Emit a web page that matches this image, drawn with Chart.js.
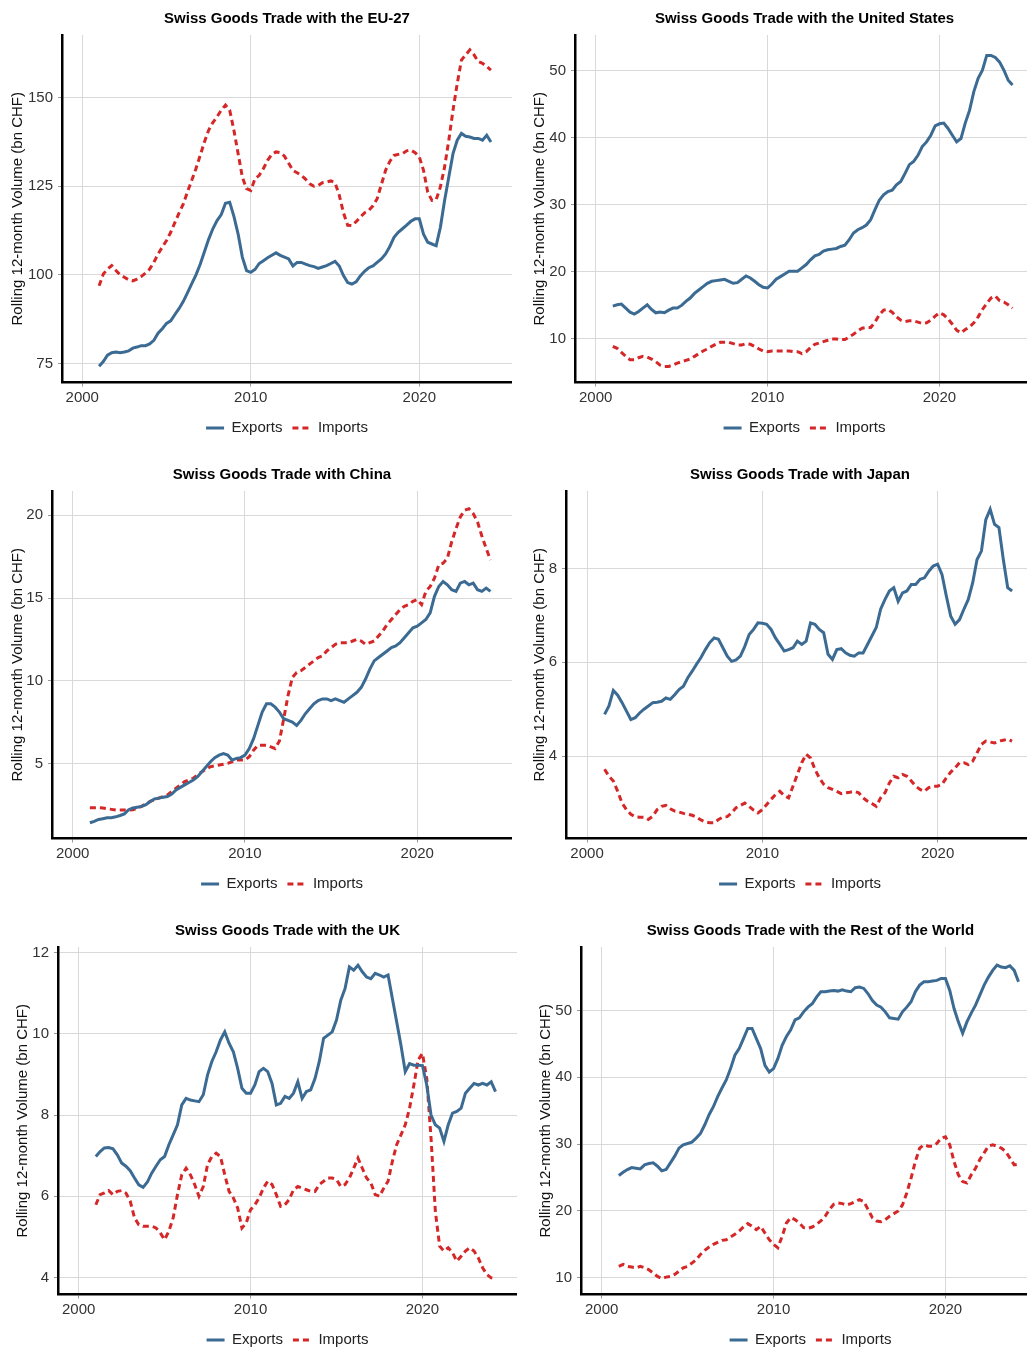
<!DOCTYPE html>
<html>
<head>
<meta charset="utf-8">
<title>Swiss Goods Trade by Partner</title>
<script src="https://cdn.jsdelivr.net/npm/chart.js@4.4.1/dist/chart.umd.min.js"></script>
<style>
  html, body { margin: 0; padding: 0; background: #fff; }
  body { width: 1027px; height: 1348px; overflow: hidden; position: relative; }
  canvas { position: absolute; }
</style>
</head>
<body>
<canvas id="euChart"></canvas>
<canvas id="usChart"></canvas>
<canvas id="chinaChart"></canvas>
<canvas id="japanChart"></canvas>
<canvas id="ukChart"></canvas>
<canvas id="rowChart"></canvas>
<script>
// Quarterly sample dates (decimal years)
const quarters = [
    2001, 2001.25, 2001.5, 2001.75,
    2002, 2002.25, 2002.5, 2002.75,
    2003, 2003.25, 2003.5, 2003.75,
    2004, 2004.25, 2004.5, 2004.75,
    2005, 2005.25, 2005.5, 2005.75,
    2006, 2006.25, 2006.5, 2006.75,
    2007, 2007.25, 2007.5, 2007.75,
    2008, 2008.25, 2008.5, 2008.75,
    2009, 2009.25, 2009.5, 2009.75,
    2010, 2010.25, 2010.5, 2010.75,
    2011, 2011.25, 2011.5, 2011.75,
    2012, 2012.25, 2012.5, 2012.75,
    2013, 2013.25, 2013.5, 2013.75,
    2014, 2014.25, 2014.5, 2014.75,
    2015, 2015.25, 2015.5, 2015.75,
    2016, 2016.25, 2016.5, 2016.75,
    2017, 2017.25, 2017.5, 2017.75,
    2018, 2018.25, 2018.5, 2018.75,
    2019, 2019.25, 2019.5, 2019.75,
    2020, 2020.25, 2020.5, 2020.75,
    2021, 2021.25, 2021.5, 2021.75,
    2022, 2022.25, 2022.5, 2022.75,
    2023, 2023.25, 2023.5, 2023.75,
    2024, 2024.25
];

const xTicks = [2000, 2010, 2020];

// EU-27 (bn CHF)
const euExports = [
    74.2, 75.5, 77.3, 78.0,
    78.2, 78.0, 78.2, 78.5,
    79.3, 79.6, 80.0, 80.0,
    80.5, 81.5, 83.5, 84.8,
    86.3, 87.0, 88.8, 90.5,
    92.5, 95.0, 97.5, 100.0,
    103.0, 106.5, 110.0, 113.0,
    115.3, 117.0, 120.2, 120.5,
    116.5, 111.5, 105.0, 101.2,
    100.7, 101.5, 103.2, 104.0,
    104.8, 105.5, 106.2, 105.5,
    105.0, 104.5, 102.5, 103.5,
    103.5, 103.0, 102.6, 102.3,
    101.8, 102.2, 102.6, 103.2,
    103.8, 102.5, 99.8, 97.8,
    97.4, 98.0, 99.7, 101.0,
    102.0, 102.5, 103.5, 104.5,
    105.9, 108.0, 110.6, 112.0,
    113.0, 114.0, 115.1, 115.8,
    115.8, 111.5, 109.2, 108.7,
    108.2, 113.4, 121.0, 127.6,
    134.2, 138.0, 139.9, 139.1,
    138.9, 138.5, 138.5, 138.0,
    139.4, 137.5
];
const euImports = [
    96.9, 100.2, 101.6, 102.6,
    101.2, 100.0, 99.3, 98.6,
    98.3, 98.8, 99.5, 100.5,
    101.6, 103.5, 105.9, 107.8,
    109.7, 112.0, 114.8, 117.5,
    120.0, 123.5, 126.7, 130.0,
    133.7, 137.5, 140.8, 143.0,
    144.6, 146.5, 147.9, 146.5,
    140.8, 134.2, 127.6, 124.3,
    123.8, 127.1, 128.1, 130.0,
    132.3, 134.0, 134.7, 134.5,
    133.5, 131.5, 129.5, 128.8,
    128.1, 127.0, 125.7, 125.0,
    125.2, 126.0, 126.2, 126.5,
    126.0, 122.5, 117.5, 114.0,
    113.9, 115.0, 116.3, 117.5,
    118.2, 119.5, 121.5, 125.5,
    129.5, 132.0, 133.7, 134.0,
    134.2, 135.0, 135.2, 134.5,
    133.3, 129.5, 123.3, 121.0,
    121.2, 124.8, 130.4, 138.0,
    146.5, 154.0, 160.6, 162.1,
    163.5, 162.1, 160.2, 159.7,
    158.8, 157.8
];
const euTicks = [75, 100, 125, 150];

// United States
const usExports = [
    14.9, 15.1, 15.2, 14.6,
    14.0, 13.7, 14.1, 14.6,
    15.1, 14.4, 13.9, 14.0,
    13.9, 14.3, 14.6, 14.6,
    15.0, 15.6, 16.1, 16.8,
    17.3, 17.8, 18.3, 18.6,
    18.7, 18.8, 18.9, 18.6,
    18.3, 18.4, 18.9, 19.4,
    19.1, 18.6, 18.1, 17.7,
    17.6, 18.2, 18.9, 19.3,
    19.7, 20.1, 20.1, 20.1,
    20.6, 21.1, 21.8, 22.4,
    22.6, 23.1, 23.3, 23.4,
    23.5, 23.8, 24.0, 24.8,
    25.8, 26.3, 26.6, 27.0,
    27.8, 29.3, 30.7, 31.5,
    32.0, 32.2, 33.0, 33.5,
    34.7, 36.0, 36.5, 37.4,
    38.7, 39.4, 40.4, 41.8,
    42.1, 42.2, 41.4, 40.4,
    39.4, 39.9, 42.2, 44.1,
    46.9, 48.9, 50.1, 52.3,
    52.3, 52.0, 51.3, 50.1,
    48.6, 47.9
];
const usImports = [
    8.9, 8.6, 8.0, 7.4,
    6.9, 6.9, 7.2, 7.4,
    7.3, 7.0, 6.6, 6.1,
    5.9, 5.9, 6.1, 6.4,
    6.6, 6.8, 7.0, 7.4,
    7.8, 8.2, 8.5, 8.9,
    9.2, 9.5, 9.5, 9.5,
    9.3, 9.1, 9.1, 9.3,
    9.2, 8.9, 8.5, 8.2,
    8.1, 8.2, 8.2, 8.2,
    8.2, 8.2, 8.1, 8.1,
    7.8, 8.1, 8.7, 9.2,
    9.4, 9.6, 9.8, 10.0,
    10.0, 9.9, 9.9, 10.3,
    10.7, 11.2, 11.6, 11.7,
    11.7, 12.5, 13.6, 14.3,
    14.4, 14.0, 13.3, 12.8,
    12.6, 12.7, 12.7, 12.5,
    12.3, 12.4, 12.8, 13.4,
    13.9, 13.6, 13.0, 12.2,
    11.3, 10.9, 11.4, 11.8,
    12.4, 13.3, 14.4, 15.3,
    16.1, 16.4, 15.7, 15.5,
    15.1, 14.6
];
const usTicks = [10, 20, 30, 40, 50];

// China
const chinaExports = [
    1.41, 1.50, 1.61, 1.66,
    1.71, 1.72, 1.77, 1.85,
    1.95, 2.20, 2.30, 2.35,
    2.40, 2.50, 2.70, 2.85,
    2.90, 2.95, 3.00, 3.15,
    3.40, 3.55, 3.70, 3.85,
    4.00, 4.20, 4.50, 4.80,
    5.10, 5.35, 5.50, 5.60,
    5.50, 5.20, 5.30, 5.35,
    5.50, 5.90, 6.50, 7.30,
    8.10, 8.60, 8.60, 8.40,
    8.10, 7.70, 7.60, 7.50,
    7.30, 7.60, 8.00, 8.30,
    8.60, 8.80, 8.90, 8.90,
    8.80, 8.90, 8.80, 8.70,
    8.90, 9.10, 9.30, 9.60,
    10.1, 10.7, 11.2, 11.4,
    11.6, 11.8, 12.0, 12.1,
    12.3, 12.6, 12.9, 13.2,
    13.3, 13.5, 13.7, 14.1,
    15.1, 15.7, 16.0, 15.8,
    15.5, 15.4, 15.9, 16.0,
    15.8, 15.9, 15.5, 15.4,
    15.6, 15.4
];
const chinaImports = [
    2.32, 2.32, 2.32, 2.30,
    2.26, 2.22, 2.18, 2.18,
    2.18, 2.18, 2.20, 2.30,
    2.40, 2.55, 2.70, 2.80,
    2.90, 3.00, 3.10, 3.30,
    3.50, 3.70, 3.90, 4.00,
    4.10, 4.30, 4.50, 4.65,
    4.80, 4.85, 4.90, 4.95,
    5.00, 5.10, 5.20, 5.20,
    5.20, 5.40, 5.80, 6.10,
    6.10, 6.10, 6.00, 5.90,
    6.35, 7.70, 9.10, 10.2,
    10.5, 10.6, 10.8, 11.0,
    11.2, 11.4, 11.5, 11.8,
    12.0, 12.2, 12.3, 12.3,
    12.3, 12.4, 12.5, 12.4,
    12.2, 12.3, 12.4, 12.7,
    13.0, 13.4, 13.7, 14.0,
    14.3, 14.5, 14.6, 14.8,
    14.9, 14.6, 15.4, 15.7,
    16.2, 17.0, 17.1, 17.4,
    18.4, 19.2, 19.9, 20.3,
    20.4, 20.1, 19.6, 18.75,
    18.0, 17.3
];
const chinaTicks = [5, 10, 15, 20];

// Japan
const japanExports = [
    4.89, 5.07, 5.40, 5.30,
    5.14, 4.96, 4.78, 4.82,
    4.92, 5.00, 5.07, 5.14,
    5.15, 5.17, 5.24, 5.21,
    5.31, 5.42, 5.49, 5.67,
    5.81, 5.96, 6.10, 6.27,
    6.42, 6.52, 6.49, 6.31,
    6.13, 6.02, 6.05, 6.13,
    6.34, 6.59, 6.70, 6.84,
    6.83, 6.81, 6.70, 6.52,
    6.38, 6.24, 6.27, 6.31,
    6.45, 6.38, 6.45, 6.84,
    6.81, 6.70, 6.63, 6.17,
    6.06, 6.27, 6.29, 6.20,
    6.15, 6.13, 6.20, 6.20,
    6.38, 6.56, 6.74, 7.13,
    7.34, 7.52, 7.59, 7.30,
    7.48, 7.52, 7.66, 7.66,
    7.77, 7.80, 7.94, 8.05,
    8.09, 7.87, 7.41, 6.98,
    6.81, 6.91, 7.13, 7.34,
    7.69, 8.19, 8.37, 9.04,
    9.26, 8.94, 8.87, 8.19,
    7.59, 7.52
];
const japanImports = [
    3.72, 3.57, 3.47, 3.25,
    3.00, 2.86, 2.76, 2.71,
    2.70, 2.70, 2.65, 2.72,
    2.86, 2.93, 2.95, 2.88,
    2.83, 2.81, 2.78, 2.76,
    2.74, 2.70, 2.64, 2.60,
    2.58, 2.58, 2.65, 2.70,
    2.71, 2.79, 2.90, 2.95,
    3.00, 2.93, 2.85, 2.79,
    2.86, 2.97, 3.08, 3.18,
    3.25, 3.16, 3.11, 3.36,
    3.61, 3.86, 4.04, 3.96,
    3.72, 3.54, 3.40, 3.33,
    3.29, 3.25, 3.20, 3.22,
    3.23, 3.25, 3.22, 3.11,
    3.04, 2.99, 2.93, 3.11,
    3.22, 3.43, 3.57, 3.54,
    3.61, 3.57, 3.47, 3.36,
    3.29, 3.25, 3.33, 3.36,
    3.36, 3.40, 3.54, 3.66,
    3.75, 3.86, 3.86, 3.82,
    3.89, 4.07, 4.25, 4.32,
    4.30, 4.28, 4.32, 4.34,
    4.36, 4.32
];
const japanTicks = [4, 6, 8];

// United Kingdom
const ukExports = [
    6.98, 7.10, 7.19, 7.20,
    7.17, 7.02, 6.82, 6.74,
    6.63, 6.45, 6.28, 6.22,
    6.35, 6.57, 6.74, 6.90,
    6.98, 7.27, 7.51, 7.76,
    8.25, 8.41, 8.37, 8.35,
    8.33, 8.50, 8.99, 9.32,
    9.56, 9.85, 10.05, 9.77,
    9.56, 9.15, 8.66, 8.54,
    8.54, 8.74, 9.07, 9.15,
    9.07, 8.78, 8.25, 8.29,
    8.46, 8.41, 8.54, 8.82,
    8.41, 8.58, 8.62, 8.90,
    9.32, 9.89, 9.97, 10.05,
    10.34, 10.83, 11.12, 11.65,
    11.57, 11.69, 11.53, 11.40,
    11.36, 11.49, 11.45, 11.40,
    11.45, 10.87, 10.30, 9.72,
    9.07, 9.27, 9.23, 9.23,
    9.22, 8.74, 8.00, 7.76,
    7.68, 7.35, 7.76, 8.05,
    8.09, 8.17, 8.54, 8.66,
    8.78, 8.74, 8.78, 8.74,
    8.82, 8.58
];
const ukImports = [
    5.79, 6.04, 6.08, 6.14,
    6.04, 6.12, 6.14, 6.08,
    5.88, 5.47, 5.30, 5.26,
    5.26, 5.26, 5.22, 5.10,
    4.93, 5.14, 5.47, 6.04,
    6.53, 6.69, 6.53, 6.29,
    6.00, 6.24, 6.78, 6.98,
    7.06, 6.98, 6.53, 6.12,
    5.96, 5.71, 5.22, 5.34,
    5.67, 5.79, 5.96, 6.20,
    6.37, 6.29, 6.04, 5.75,
    5.79, 5.92, 6.16, 6.24,
    6.20, 6.16, 6.12, 6.12,
    6.29, 6.37, 6.45, 6.45,
    6.41, 6.24, 6.29, 6.45,
    6.69, 6.94, 6.69, 6.45,
    6.33, 6.04, 6.00, 6.20,
    6.37, 6.86, 7.27, 7.51,
    7.76, 8.17, 8.74, 9.36,
    9.52, 8.90, 7.43, 5.63,
    4.77, 4.65, 4.73, 4.61,
    4.40, 4.52, 4.65, 4.73,
    4.65, 4.48, 4.24, 4.07,
    3.99, 3.97
];
const ukTicks = [4, 6, 8, 10, 12];

// Rest of the World
const rowExports = [
    25.3, 25.8, 26.2, 26.5,
    26.4, 26.3, 26.9, 27.1,
    27.2, 26.7, 26.0, 26.2,
    27.2, 28.2, 29.4, 29.9,
    30.1, 30.3, 30.9, 31.6,
    32.9, 34.4, 35.6, 37.1,
    38.4, 39.6, 41.3, 43.3,
    44.3, 45.8, 47.3, 47.3,
    45.8, 44.3, 41.8, 40.8,
    41.3, 42.8, 44.8, 46.1,
    47.1, 48.6, 48.9, 49.8,
    50.5, 51.0, 52.0, 52.8,
    52.8, 52.9, 53.0, 52.9,
    53.1, 52.9, 52.8, 53.4,
    53.5, 53.3, 52.5, 51.5,
    50.8, 50.5, 49.8, 48.9,
    48.8, 48.7, 49.8, 50.5,
    51.3, 52.8, 53.8, 54.3,
    54.3, 54.4, 54.5, 54.8,
    54.8, 53.0, 50.3, 48.3,
    46.6, 48.3, 49.6, 50.8,
    52.3, 53.8, 55.0, 56.0,
    56.8, 56.5, 56.4, 56.7,
    56.0, 54.3
];
const rowImports = [
    11.7, 12.0, 11.7, 11.6,
    11.5, 11.7, 11.5, 11.2,
    10.7, 10.2, 9.9, 10.1,
    10.2, 10.5, 11.0, 11.5,
    11.7, 12.2, 12.7, 13.5,
    14.1, 14.6, 15.0, 15.3,
    15.6, 15.7, 16.1, 16.5,
    17.0, 17.6, 18.1, 17.7,
    17.2, 17.7, 16.7, 15.7,
    15.0, 14.5, 16.2, 18.2,
    19.0, 18.7, 18.2, 17.5,
    17.4, 17.6, 18.0, 18.5,
    19.2, 20.2, 21.0, 21.2,
    21.1, 20.9, 21.1, 21.4,
    21.7, 21.4, 20.2, 19.0,
    18.5, 18.4, 18.7, 19.2,
    19.6, 20.0, 20.9, 22.7,
    24.9, 27.4, 29.4, 29.9,
    29.7, 29.7, 30.1, 30.9,
    31.1, 29.9, 27.4, 25.4,
    24.4, 24.2, 25.4, 26.4,
    27.7, 28.7, 29.7, 29.9,
    29.7, 29.4, 28.9, 27.9,
    26.9, 27.0
];
const rowTicks = [10, 20, 30, 40, 50];

// Global defaults
Chart.defaults.font.family = "'Liberation Sans', Arial, sans-serif";
Chart.defaults.font.size = 15;
Chart.defaults.color = '#333';

const EXPORT_COLOR = '#3B6A92';
const IMPORT_COLOR = '#D62728';
const GRID_COLOR = '#d9d9d9';
const Y_TITLE = 'Rolling 12-month Volume (bn CHF)';

function toPoints(values) {
    return values.map(function(v, i) {
        return { x: quarters[i], y: v };
    });
}

// legend keys drawn as short lines, keeping the dataset's dash pattern
function lineLegendLabels(chart) {
    const items = Chart.defaults.plugins.legend.labels.generateLabels(chart);
    items.forEach(function(item) {
        const ds = chart.data.datasets[item.datasetIndex];
        item.lineDash = ds.borderDash || [];
        item.lineWidth = ds.borderWidth;
        item.strokeStyle = ds.borderColor;
        item.lineCap = 'butt';
    });
    return items;
}

function makePanel(p) {
    const canvas = document.getElementById(p.id);
    canvas.width = p.width;
    canvas.height = 456;
    canvas.style.left = p.left + 'px';
    canvas.style.top = p.top + 'px';

    return new Chart(canvas.getContext('2d'), {
        type: 'line',
        data: {
            datasets: [
                {
                    label: 'Exports',
                    data: toPoints(p.exports),
                    borderColor: EXPORT_COLOR,
                    backgroundColor: EXPORT_COLOR,
                    borderWidth: 3,
                    pointRadius: 0,
                    pointStyle: 'line',
                    tension: 0
                },
                {
                    label: 'Imports',
                    data: toPoints(p.imports),
                    borderColor: IMPORT_COLOR,
                    backgroundColor: IMPORT_COLOR,
                    borderWidth: 3,
                    borderDash: [6, 4],
                    pointRadius: 0,
                    pointStyle: 'line',
                    tension: 0
                }
            ]
        },
        options: {
            responsive: false,
            animation: false,
            events: [],
            layout: { padding: { left: 0, right: 0, top: 0, bottom: 10.5 } },
            plugins: {
                title: {
                    display: true,
                    text: p.title,
                    fullSize: false,
                    color: '#000',
                    font: { size: 15, weight: 'bold' },
                    padding: { top: 10, bottom: 7 }
                },
                legend: {
                    position: 'bottom',
                    fullSize: false,
                    labels: {
                        usePointStyle: true,
                        pointStyleWidth: 18,
                        padding: 10,
                        color: '#222',
                        font: { size: 15 },
                        generateLabels: lineLegendLabels
                    }
                },
                tooltip: { enabled: false }
            },
            scales: {
                x: {
                    type: 'linear',
                    min: 1998.8,
                    max: 2025.5,
                    afterBuildTicks: function(axis) {
                        axis.ticks = xTicks.map(function(v) { return { value: v }; });
                    },
                    afterFit: function(axis) { axis.height = 28; },
                    ticks: {
                        padding: 2,
                        color: '#333',
                        callback: function(v) { return String(v); }
                    },
                    grid: { color: GRID_COLOR, tickColor: '#999', tickLength: 4 },
                    border: { color: '#000', width: 2.5 }
                },
                y: {
                    type: 'linear',
                    min: p.yMin,
                    max: p.yMax,
                    afterBuildTicks: function(axis) {
                        axis.ticks = p.yTicks.map(function(v) { return { value: v }; });
                    },
                    afterFit: function(axis) { axis.width = p.axisWidth; },
                    title: {
                        display: true,
                        text: Y_TITLE,
                        color: '#111',
                        font: { size: 15 },
                        padding: { top: p.titlePad, bottom: 0 }
                    },
                    ticks: {
                        padding: 5,
                        color: '#333',
                        callback: function(v) { return String(v); }
                    },
                    grid: { color: GRID_COLOR, tickColor: '#999', tickLength: 4 },
                    border: { color: '#000', width: 2.5 }
                }
            }
        }
    });
}

makePanel({ id: 'euChart', title: 'Swiss Goods Trade with the EU-27', exports: euExports, imports: euImports,
    yTicks: euTicks, yMin: 69.6, yMax: 167.7, left: 0, top: 0, width: 512, axisWidth: 62, titlePad: 9.3 });
makePanel({ id: 'usChart', title: 'Swiss Goods Trade with the United States', exports: usExports, imports: usImports,
    yTicks: usTicks, yMin: 3.5, yMax: 55.35, left: 513, top: 0, width: 521, axisWidth: 62, titlePad: 17.7 });
makePanel({ id: 'chinaChart', title: 'Swiss Goods Trade with China', exports: chinaExports, imports: chinaImports,
    yTicks: chinaTicks, yMin: 0.46, yMax: 21.47, left: 0, top: 456, width: 512, axisWidth: 52, titlePad: 9.3 });
makePanel({ id: 'japanChart', title: 'Swiss Goods Trade with Japan', exports: japanExports, imports: japanImports,
    yTicks: japanTicks, yMin: 2.245, yMax: 9.65, left: 513, top: 456, width: 521, axisWidth: 53, titlePad: 17.7 });
makePanel({ id: 'ukChart', title: 'Swiss Goods Trade with the UK', exports: ukExports, imports: ukImports,
    yTicks: ukTicks, yMin: 3.58, yMax: 12.14, left: 0, top: 912, width: 517, axisWidth: 58, titlePad: 13.7 });
makePanel({ id: 'rowChart', title: 'Swiss Goods Trade with the Rest of the World', exports: rowExports, imports: rowImports,
    yTicks: rowTicks, yMin: 7.5, yMax: 59.5, left: 513, top: 912, width: 527, axisWidth: 68, titlePad: 24.3 });
</script>
</body>
</html>
